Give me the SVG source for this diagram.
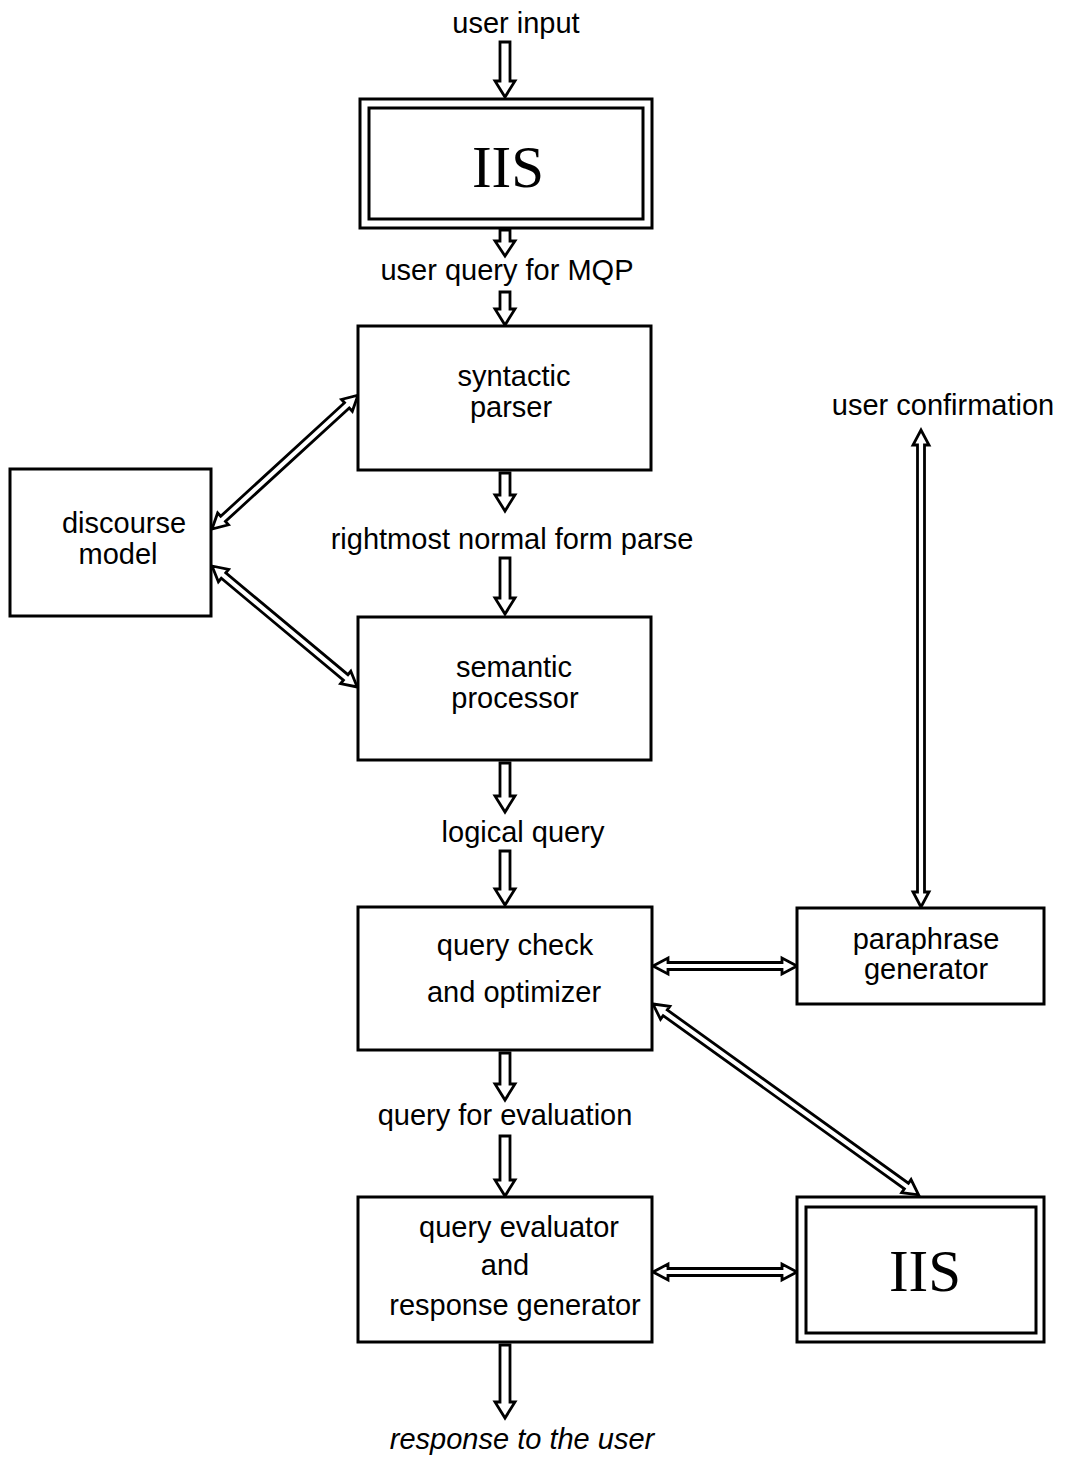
<svg xmlns="http://www.w3.org/2000/svg" width="1066" height="1458" viewBox="0 0 1066 1458">
<style>
.box{fill:#fff;stroke:#000;stroke-width:3}
.arr{fill:#fff;stroke:#000;stroke-width:2.8;stroke-linejoin:miter}
.t{font-family:"Liberation Sans",Arial,sans-serif;font-size:29px;fill:#000;text-anchor:middle}
.iis{font-family:"Liberation Serif","Times New Roman",serif;font-size:59px;fill:#000;text-anchor:middle}
</style>
<rect width="1066" height="1458" fill="#fff"/>
<g id="connectors">
<polygon class="arr" points="500,42 510,42 510,81 515,81 505,97 495,81 500,81"/>
<polygon class="arr" points="500,230 510,230 510,241 515,241 505,256 495,241 500,241"/>
<polygon class="arr" points="500,292 510,292 510,309 515,309 505,325 495,309 500,309"/>
<polygon class="arr" points="500,473 510,473 510,495 515,495 505,511 495,495 500,495"/>
<polygon class="arr" points="500,558 510,558 510,598 515,598 505,614 495,598 500,598"/>
<polygon class="arr" points="500,763 510,763 510,796 515,796 505,812 495,796 500,796"/>
<polygon class="arr" points="500,851 510,851 510,889 515,889 505,905 495,889 500,889"/>
<polygon class="arr" points="500,1053 510,1053 510,1084 515,1084 505,1100 495,1084 500,1084"/>
<polygon class="arr" points="500,1136 510,1136 510,1180 515,1180 505,1196 495,1180 500,1180"/>
<polygon class="arr" points="500,1345 510,1345 510,1402 515,1402 505,1418 495,1402 500,1402"/>
<polygon class="arr" transform="translate(212,529) rotate(-42.5)" points="0,0 15,-8 15,-3.5 183,-3.5 183,-8 198,0 183,8 183,3.5 15,3.5 15,8"/>
<polygon class="arr" transform="translate(212,566) rotate(39.8)" points="0,0 15,-8 15,-3.5 174,-3.5 174,-8 189,0 174,8 174,3.5 15,3.5 15,8"/>
<polygon class="arr" transform="translate(653,1004) rotate(35.7)" points="0,0 15,-8 15,-3.5 312,-3.5 312,-8 327,0 312,8 312,3.5 15,3.5 15,8"/>
<polygon class="arr" transform="translate(653,966)" points="0,0 15,-8 15,-3.5 129,-3.5 129,-8 144,0 129,8 129,3.5 15,3.5 15,8"/>
<polygon class="arr" transform="translate(653,1272)" points="0,0 15,-8 15,-3.5 129,-3.5 129,-8 144,0 129,8 129,3.5 15,3.5 15,8"/>
<polygon class="arr" transform="translate(921,907) rotate(-90)" points="0,0 15,-8 15,-3.5 462,-3.5 462,-8 477,0 462,8 462,3.5 15,3.5 15,8"/>
</g>
<g id="labels">
<text class="t" x="516" y="33">user input</text>
<text class="t" x="507" y="280">user query for MQP</text>
<text class="t" x="512" y="549">rightmost normal form parse</text>
<text class="t" x="523" y="842">logical query</text>
<text class="t" x="505" y="1125">query for evaluation</text>
<text class="t" x="522" y="1449" font-style="italic">response to the user</text>
<text class="t" x="943" y="415">user confirmation</text>
</g>
<g id="iis-top">
<rect class="box" x="360" y="99" width="292" height="129"/>
<rect class="box" x="369" y="108" width="274" height="111"/>
<text class="iis" x="508" y="187">IIS</text>
</g>
<g id="syntactic-parser">
<rect class="box" x="358" y="326" width="293" height="144"/>
<text class="t" x="514" y="386">syntactic</text>
<text class="t" x="511" y="417">parser</text>
</g>
<g id="discourse-model">
<rect class="box" x="10" y="469" width="201" height="147"/>
<text class="t" x="124" y="533">discourse</text>
<text class="t" x="118" y="564">model</text>
</g>
<g id="semantic-processor">
<rect class="box" x="358" y="617" width="293" height="143"/>
<text class="t" x="514" y="677">semantic</text>
<text class="t" x="515" y="708">processor</text>
</g>
<g id="query-check">
<rect class="box" x="358" y="907" width="294" height="143"/>
<text class="t" x="515" y="955">query check</text>
<text class="t" x="514" y="1002">and optimizer</text>
</g>
<g id="paraphrase-generator">
<rect class="box" x="797" y="908" width="247" height="96"/>
<text class="t" x="926" y="949">paraphrase</text>
<text class="t" x="926" y="979">generator</text>
</g>
<g id="query-evaluator">
<rect class="box" x="358" y="1197" width="294" height="145"/>
<text class="t" x="519" y="1237">query evaluator</text>
<text class="t" x="505" y="1275">and</text>
<text class="t" x="515" y="1315">response generator</text>
</g>
<g id="iis-bottom">
<rect class="box" x="797" y="1197" width="247" height="145"/>
<rect class="box" x="806" y="1207" width="230" height="126"/>
<text class="iis" x="925" y="1291">IIS</text>
</g>
</svg>
